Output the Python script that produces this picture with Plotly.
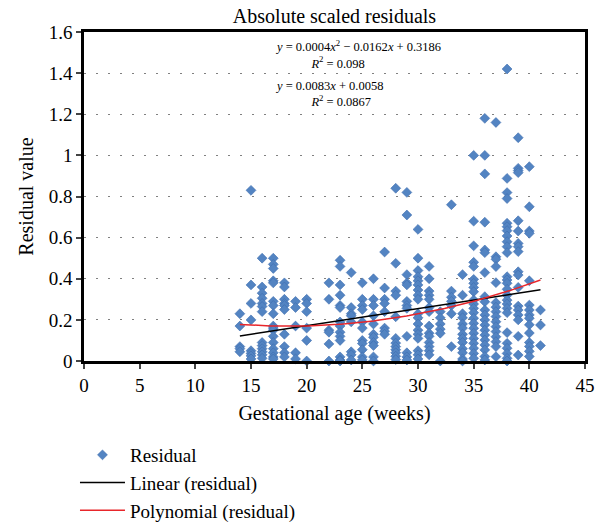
import numpy as np
import plotly.graph_objects as go

# ---- data ----
weeks = [14, 15, 16, 17, 18, 19, 20, 22, 23, 24, 25, 26, 27, 28, 29, 30, 31, 32, 33, 34, 35, 36, 37, 38, 39, 40, 41]
residuals_by_week = [
    [0.23, 0.17, 0.07, 0.06, 0.045],
    [0.83, 0.37, 0.28, 0.20, 0.05, 0.037, 0.025, 0.01],
    [0.50, 0.36, 0.33, 0.305, 0.28, 0.265, 0.24, 0.09, 0.075, 0.06, 0.045, 0.03, 0.013],
    [0.50, 0.47, 0.45, 0.39, 0.38, 0.29, 0.27, 0.23, 0.17, 0.16, 0.15, 0.12, 0.09, 0.06, 0.04, 0.02, 0.01],
    [0.38, 0.36, 0.30, 0.28, 0.27, 0.25, 0.13, 0.07, 0.04, 0.02],
    [0.29, 0.26, 0.17, 0.04, 0.01, -0.008],
    [0.30, 0.28, 0.24, 0.16, 0.10, 0.0],
    [0.38, 0.30, 0.15, 0.14, 0.083, 0.0],
    [0.49, 0.46, 0.37, 0.32, 0.27, 0.26, 0.19, 0.17, 0.14, 0.12, 0.10, 0.02, 0.005, 0.0],
    [0.43, 0.26, 0.23, 0.22, 0.19, 0.045, 0.03, 0.005],
    [0.38, 0.30, 0.27, 0.25, 0.19, 0.16, 0.10, 0.085, 0.055, 0.02, 0.005],
    [0.40, 0.30, 0.27, 0.22, 0.18, 0.13, 0.115, 0.09, 0.075, 0.02, 0.0],
    [0.53, 0.355, 0.30, 0.28, 0.24, 0.16, 0.145, 0.13],
    [0.84, 0.475, 0.34, 0.32, 0.215, 0.11, 0.087, 0.07, 0.055, 0.04, 0.023, 0.007],
    [0.82, 0.71, 0.42, 0.38, 0.37, 0.29, 0.27, 0.256, 0.12, 0.04, 0.02, 0.005],
    [0.64, 0.50, 0.44, 0.41, 0.39, 0.37, 0.345, 0.32, 0.30, 0.23, 0.21, 0.18, 0.15, 0.13, 0.11, 0.05, 0.03, 0.01],
    [0.46, 0.40, 0.34, 0.32, 0.30, 0.26, 0.24, 0.17, 0.135, 0.12, 0.09, 0.07, 0.05, 0.03],
    [0.24, 0.21, 0.18, 0.155, 0.135, 0.0],
    [0.76, 0.34, 0.31, 0.29, 0.27, 0.23, 0.07],
    [0.42, 0.32, 0.23, 0.21, 0.18, 0.16, 0.13, 0.11, 0.09, 0.06, 0.04, 0.01, 0.0],
    [1.0, 0.68, 0.56, 0.48, 0.46, 0.397, 0.378, 0.358, 0.337, 0.297, 0.277, 0.256, 0.235, 0.208, 0.183,
     0.159, 0.135, 0.11, 0.086, 0.062, 0.037, 0.013],
    [1.18, 1.0, 0.91, 0.675, 0.54, 0.527, 0.43, 0.313, 0.288, 0.248, 0.224, 0.2, 0.175, 0.15, 0.126,
     0.102, 0.078, 0.054, 0.022, 0.005],
    [1.16, 0.507, 0.495, 0.459, 0.381, 0.284, 0.262, 0.24, 0.216, 0.191, 0.167, 0.143, 0.118, 0.094, 0.07, 0.021],
    [1.42, 0.888, 0.819, 0.79, 0.67, 0.653, 0.634, 0.608, 0.58, 0.556, 0.527, 0.41, 0.394, 0.378, 0.349,
     0.32, 0.296, 0.277, 0.256, 0.235, 0.138, 0.086, 0.062, 0.037, 0.013, 0.0],
    [1.086, 0.937, 0.926, 0.916, 0.682, 0.632, 0.572, 0.556, 0.532, 0.434, 0.418, 0.358, 0.267, 0.248,
     0.224, 0.2, 0.12, 0.029],
    [0.945, 0.75, 0.632, 0.621, 0.39, 0.272, 0.248, 0.224, 0.208, 0.176, 0.136, 0.09, 0.071, 0.047, 0.022],
    [0.248, 0.175, 0.075],
]

# trendline coefficients (as shown in the chart equations)
linear_coef = [0.0083, 0.0058]              # slope, intercept
poly_coef = [0.00044, -0.0162, 0.3186]      # a, b, c
trend_range = [14, 41]

x_ticks = [0, 5, 10, 15, 20, 25, 30, 35, 40, 45]
y_ticks = [0, 0.2, 0.4, 0.6, 0.8, 1, 1.2, 1.4, 1.6]

# ---- build ----
xs, ys = [], []
for w, vals in zip(weeks, residuals_by_week):
    xs += [w] * len(vals)
    ys += vals

xt = np.linspace(trend_range[0], trend_range[1], 120)
y_lin = np.polyval(linear_coef, xt)
y_poly = np.polyval(poly_coef, xt)

FONT = "Liberation Serif"

fig = go.Figure()
fig.add_trace(go.Scatter(
    x=xs, y=ys, mode="markers", name="Residual",
    marker=dict(symbol="diamond", size=7.6, color="#5384C2",
                line=dict(color="#3E6DAE", width=0.6)),
    cliponaxis=False,
))
fig.add_trace(go.Scatter(x=xt, y=y_lin, mode="lines", name="Linear (residual)",
                         line=dict(color="black", width=1.5)))
fig.add_trace(go.Scatter(x=xt, y=y_poly, mode="lines", name="Polynomial (residual)",
                         line=dict(color="#E8262B", width=1.5)))

eq_font = dict(family=FONT, size=12.5, color="black")
pad = "&nbsp;" * 11
annos = [
    ("<i>y</i> = 0.0004<i>x</i><sup>2</sup> − 0.0162<i>x</i> + 0.3186<br>" + pad +
     "<i>R</i><sup>2</sup> = 0.098", 0.931),
    ("<i>y</i> = 0.0083<i>x</i> + 0.0058<br>" + pad + "<i>R</i><sup>2</sup> = 0.0867", 0.812),
]
for text, ay in annos:
    fig.add_annotation(text=text, x=(273 - 84) / 501, y=ay, xref="paper", yref="paper",
                       showarrow=False, xanchor="left", yanchor="middle", align="left",
                       font=eq_font)

fig.update_layout(
    width=607, height=523,
    margin=dict(l=84, r=22, t=32, b=162, autoexpand=False),
    paper_bgcolor="white", plot_bgcolor="white",
    font=dict(family=FONT, size=20, color="black"),
    title=dict(text="Absolute scaled residuals", x=0.5, xref="paper", xanchor="center",
               y=1 - 16 / 523, yref="container", yanchor="middle",
               font=dict(family=FONT, size=20, color="black")),
    showlegend=True,
    legend=dict(x=-0.018, y=-0.228, xanchor="left", yanchor="top",
                font=dict(family=FONT, size=19, color="black"),
                bgcolor="rgba(0,0,0,0)", tracegroupgap=0, itemwidth=45),
    xaxis=dict(range=[0, 45], tickvals=x_ticks, ticks="outside", ticklen=5, tickwidth=2,
               showline=True, linecolor="black", linewidth=2.5, mirror=True,
               showgrid=False, zeroline=False, automargin=False,
               title=dict(text="Gestational age (weeks)", standoff=12,
                          font=dict(family=FONT, size=20)),
               tickfont=dict(family=FONT, size=19)),
    yaxis=dict(range=[0, 1.6], tickvals=y_ticks, ticks="outside", ticklen=5, tickwidth=2,
               showline=True, linecolor="black", linewidth=2.5, mirror=True,
               showgrid=True, gridcolor="#808080", gridwidth=1, griddash="2px,10px",
               zeroline=False, automargin=False,
               title=dict(text="Residual value", standoff=10,
                          font=dict(family=FONT, size=20)),
               tickfont=dict(family=FONT, size=19)),
)

fig.write_html("out.html", config={"displayModeBar": False},
               post_script="document.body.style.margin='0';document.body.style.overflow='hidden';")
